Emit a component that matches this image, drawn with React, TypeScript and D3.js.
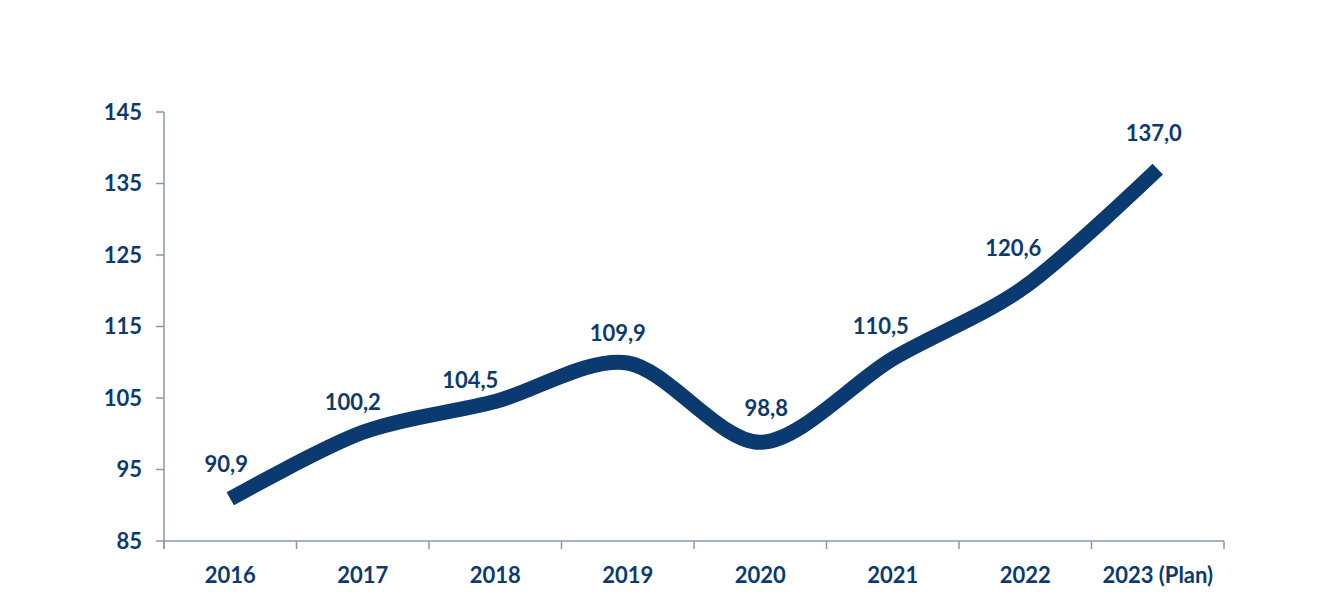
import { useEffect, useRef } from "react";
import * as d3 from "d3";

const years = ["2016", "2017", "2018", "2019", "2020", "2021", "2022", "2023 (Plan)"];
const values = [90.9, 100.2, 104.5, 109.9, 98.8, 110.5, 120.6, 137.0];
const yTicks = [85, 95, 105, 115, 125, 135, 145];

// label nudges (dx, dy from point) as Excel placed them
const labelNudge: [number, number][] = [
  [-4, -27], [-10, -22], [-25, -14], [-10, -22], [6, -26], [-12, -25], [-12, -30], [-4, -28],
];

const W = 1332;
const H = 599;
const margin = { top: 112, right: 108, bottom: 58, left: 164 };
const navy = "#0b3a70";
const axisGrey = "#8a98ab";
const font = "Lato, 'Open Sans', sans-serif";

const App = () => {
  const ref = useRef<SVGSVGElement | null>(null);

  useEffect(() => {
    if (!ref.current) return;
    const svg = d3.select(ref.current);
    svg.selectAll("*").remove();

    const x = d3
      .scaleBand<string>()
      .domain(years)
      .range([margin.left, W - margin.right]);
    const y = d3
      .scaleLinear()
      .domain([85, 145])
      .range([H - margin.bottom, margin.top]);

    const y0 = H - margin.bottom;

    // y axis
    const yAxis = svg.append("g");
    yAxis
      .append("line")
      .attr("x1", margin.left)
      .attr("x2", margin.left)
      .attr("y1", margin.top)
      .attr("y2", y0 + 8)
      .attr("stroke", axisGrey)
      .attr("stroke-width", 1.5);
    yAxis
      .selectAll("line.tick")
      .data(yTicks)
      .enter()
      .append("line")
      .attr("class", "tick")
      .attr("x1", margin.left - 8)
      .attr("x2", margin.left)
      .attr("y1", d => y(d))
      .attr("y2", d => y(d))
      .attr("stroke", axisGrey)
      .attr("stroke-width", 1.5);
    yAxis
      .selectAll("text")
      .data(yTicks)
      .enter()
      .append("text")
      .attr("x", margin.left - 22)
      .attr("y", d => y(d))
      .attr("dy", "0.35em")
      .attr("text-anchor", "end")
      .attr("fill", navy)
      .attr("font-family", font)
      .attr("font-weight", 700)
      .attr("font-size", 22)
      .text(d => d);

    // x axis
    const xAxis = svg.append("g");
    xAxis
      .append("line")
      .attr("x1", margin.left)
      .attr("x2", W - margin.right)
      .attr("y1", y0)
      .attr("y2", y0)
      .attr("stroke", axisGrey)
      .attr("stroke-width", 1.5);
    const bounds = [...years.map(d => x(d)!), W - margin.right];
    xAxis
      .selectAll("line.tick")
      .data(bounds)
      .enter()
      .append("line")
      .attr("class", "tick")
      .attr("x1", d => d)
      .attr("x2", d => d)
      .attr("y1", y0)
      .attr("y2", y0 + 8)
      .attr("stroke", axisGrey)
      .attr("stroke-width", 1.5);
    xAxis
      .selectAll("text")
      .data(years)
      .enter()
      .append("text")
      .attr("x", d => x(d)! + x.bandwidth() / 2)
      .attr("y", y0 + 42)
      .attr("text-anchor", "middle")
      .attr("fill", navy)
      .attr("font-family", font)
      .attr("font-weight", 700)
      .attr("font-size", 22)
      .text(d => d);

    const pts: [number, number][] = values.map((v, i) => [x(years[i])! + x.bandwidth() / 2, y(v)]);

    const line = d3.line().curve(d3.curveCardinal.tension(0.1));
    svg
      .append("path")
      .attr("d", line(pts)!)
      .attr("fill", "none")
      .attr("stroke", navy)
      .attr("stroke-width", 15)
      .attr("stroke-linejoin", "round")
      .attr("stroke-linecap", "butt");

    svg
      .append("g")
      .selectAll("text")
      .data(values)
      .enter()
      .append("text")
      .attr("x", (_, i) => pts[i][0] + labelNudge[i][0])
      .attr("y", (_, i) => pts[i][1] + labelNudge[i][1])
      .attr("text-anchor", "middle")
      .attr("fill", navy)
      .attr("font-family", font)
      .attr("font-weight", 700)
      .attr("font-size", 22)
      .text(d => d.toFixed(1).replace(".", ","));
  }, []);

  return (
    <svg
      ref={ref}
      width={W}
      height={H}
      style={{ position: "fixed", top: 0, left: 0, background: "#fff" }}
    />
  );
};

export default App;
